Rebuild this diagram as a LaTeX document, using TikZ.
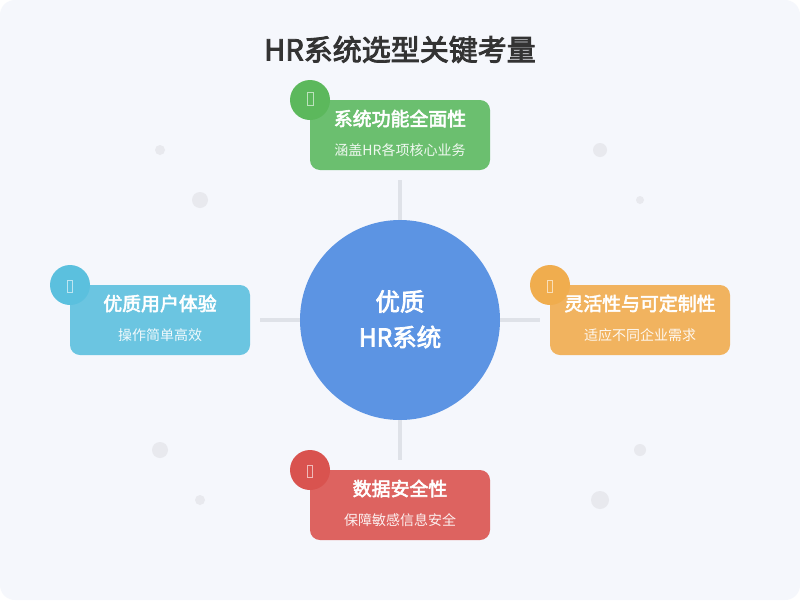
\documentclass[tikz,border=0pt]{standalone}
\usepackage{fontspec}
\setmainfont{Noto Sans CJK SC}
\newfontfamily\medcjk[FakeBold=3]{Noto Sans CJK SC}
\definecolor{bgc}{HTML}{F5F7FC}
\definecolor{linec}{HTML}{DFE2E8}
\definecolor{dotc}{HTML}{E8E9EE}
\definecolor{hubc}{HTML}{5C94E3}
\definecolor{titlec}{HTML}{333333}
\definecolor{gcard}{HTML}{6BBF6F}
\definecolor{gbadge}{HTML}{5CB85C}
\definecolor{bcard}{HTML}{6BC5E1}
\definecolor{bbadge}{HTML}{5BC0DE}
\definecolor{ocard}{HTML}{F1B35F}
\definecolor{obadge}{HTML}{F0AD4E}
\definecolor{rcard}{HTML}{DD6360}
\definecolor{rbadge}{HTML}{D9534F}
\tikzset{
  card/.style={rectangle,rounded corners=10pt,minimum width=180pt,minimum height=70pt,inner sep=0pt},
  badge/.style={circle,minimum size=40pt,inner sep=0pt},
  tofu/.style={rectangle,draw=white,draw opacity=.6,line width=.7pt,minimum width=5pt,minimum height=12pt,inner sep=0pt},
  tofubig/.style={tofu,minimum width=6pt,minimum height=13.5pt},
  cardhead/.style={text=white,font=\fontsize{18.9}{19}\medcjk,inner sep=0pt},
  cardsub/.style={text=white,text opacity=.9,font=\fontsize{14}{14}\selectfont,inner sep=0pt},
  hubtext/.style={text=white,font=\fontsize{24.5}{25}\medcjk,inner sep=0pt},
  link/.style={draw=linec,line width=4pt,shorten >=10pt},
  dot/.style={circle,fill=dotc,inner sep=0pt}
}
\begin{document}
\begin{tikzpicture}[x=1pt,y=-1pt]
\useasboundingbox (0,0) rectangle (800,600);
\fill[white] (0,0) rectangle (800,600);
\fill[bgc,rounded corners=15pt] (0,0) rectangle (800,600);
\node[dot,minimum size=10pt] (d1) at (160,150) {};
\node[dot,minimum size=16pt] (d2) at (200,200) {};
\node[dot,minimum size=14pt] (d3) at (600,150) {};
\node[dot,minimum size=8pt] (d4) at (640,200) {};
\node[dot,minimum size=16pt] (d5) at (160,450) {};
\node[dot,minimum size=10pt] (d6) at (200,500) {};
\node[dot,minimum size=12pt] (d7) at (640,450) {};
\node[dot,minimum size=18pt] (d8) at (600,500) {};
\node[text=titlec,font=\fontsize{29}{29}\medcjk,inner sep=0pt] (title) at (400,49.5) {HR系统选型关键考量};
\node[circle,fill=hubc,minimum size=200pt,inner sep=0pt] (hub) at (400,320) {};
\node[card,fill=gcard] (top) at (400,135) {};
\node[card,fill=bcard] (left) at (160,320) {};
\node[card,fill=ocard] (right) at (640,320) {};
\node[card,fill=rcard] (bottom) at (400,505) {};
\draw[link] (hub.north) -- (top.south);
\draw[link] (hub.west) -- (left.east);
\draw[link] (hub.east) -- (right.west);
\draw[link] (hub.south) -- (bottom.north);
\node[hubtext] (h1) at (400,301.5) {优质};
\node[hubtext] (h2) at (400,337) {HR系统};
\node[badge,fill=gbadge] (b1) at (310,100) {};
\node[badge,fill=bbadge] (b2) at (70,285) {};
\node[badge,fill=obadge] (b3) at (550,285) {};
\node[badge,fill=rbadge] (b4) at (310,470) {};
\node[tofubig] (i1) at (310.8,99) {};
\node[tofu] (i2) at (70.2,286) {};
\node[tofu] (i3) at (550.2,286) {};
\node[tofu] (i4) at (310.2,471) {};
\node[cardhead] (t1) at (400,118.5) {系统功能全面性};
\node[cardsub] (s1) at (400,150) {涵盖HR各项核心业务};
\node[cardhead] (t2) at (160,303.5) {优质用户体验};
\node[cardsub] (s2) at (160,335) {操作简单高效};
\node[cardhead] (t3) at (640,303.5) {灵活性与可定制性};
\node[cardsub] (s3) at (640,335) {适应不同企业需求};
\node[cardhead] (t4) at (400,488.5) {数据安全性};
\node[cardsub] (s4) at (400,520) {保障敏感信息安全};
\end{tikzpicture}
\end{document}
